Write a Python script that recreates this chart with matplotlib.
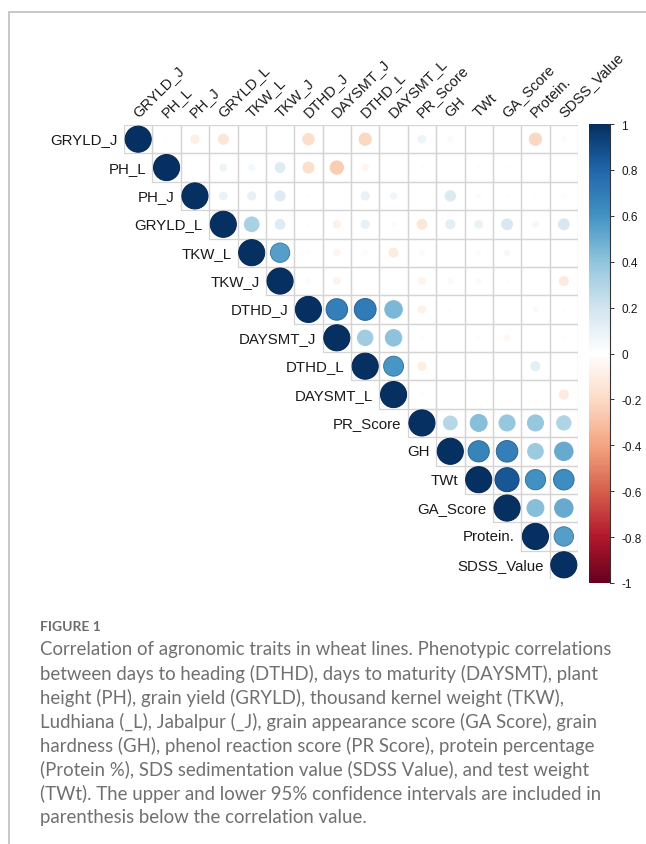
import matplotlib.pyplot as plt
import numpy as np
from matplotlib.colors import LinearSegmentedColormap, Normalize
from matplotlib.patches import Circle, Rectangle
from matplotlib.colorbar import ColorbarBase

traits = ["GRYLD_J", "PH_L", "PH_J", "GRYLD_L", "TKW_L", "TKW_J", "DTHD_J",
          "DAYSMT_J", "DTHD_L", "DAYSMT_L", "PR_Score", "GH", "TWt",
          "GA_Score", "Protein.", "SDSS_Value"]

# upper triangle of the correlation matrix, each row starting at the diagonal
r_gryld_j = [1, -0.02, -0.10, -0.15, 0.00, 0.00, -0.19, 0.00, -0.22, 0.00, 0.08, -0.04, 0.00, 0.00, -0.22, -0.03]
r_ph_l = [1, 0.00, 0.07, 0.05, 0.14, -0.18, -0.26, -0.06, 0.00, 0.01, 0.00, 0.01, 0.01, 0.00, 0.00]
r_ph_j = [1, 0.09, 0.10, 0.15, 0.01, -0.01, 0.10, 0.06, 0.00, 0.16, 0.02, 0.01, 0.01, -0.02]
r_gryld_l = [1, 0.32, 0.14, 0.01, -0.08, 0.10, 0.02, -0.14, 0.12, 0.09, 0.17, 0.05, 0.17]
r_tkw_l = [1, 0.55, 0.01, -0.06, -0.03, -0.12, -0.04, 0.00, 0.02, 0.04, 0.00, 0.00]
r_tkw_j = [1, -0.03, -0.07, 0.00, 0.00, -0.07, -0.04, -0.04, -0.02, -0.01, -0.12]
r_dthd_j = [1, 0.68, 0.70, 0.45, -0.08, 0.01, 0.00, 0.00, 0.03, 0.01]
r_daysmt_j = [1, 0.35, 0.40, -0.02, 0.00, 0.01, -0.05, 0.00, -0.02]
r_dthd_l = [1, 0.58, -0.10, 0.00, 0.00, 0.00, 0.12, 0.00]
r_daysmt_l = [1, -0.02, 0.00, 0.00, -0.01, 0.00, -0.12]
r_pr_score = [1, 0.28, 0.42, 0.38, 0.38, 0.30]
r_gh = [1, 0.66, 0.68, 0.36, 0.50]
r_twt = [1, 0.85, 0.60, 0.62]
r_ga_score = [1, 0.42, 0.50]
r_protein = [1, 0.55]
r_sdss_value = [1]

upper_rows = [r_gryld_j, r_ph_l, r_ph_j, r_gryld_l, r_tkw_l, r_tkw_j, r_dthd_j,
              r_daysmt_j, r_dthd_l, r_daysmt_l, r_pr_score, r_gh, r_twt,
              r_ga_score, r_protein, r_sdss_value]

cbar_ticks = [1, 0.8, 0.6, 0.4, 0.2, 0, -0.2, -0.4, -0.6, -0.8, -1]

caption_title = "FIGURE 1"
caption_lines = [
    "Correlation of agronomic traits in wheat lines. Phenotypic correlations",
    "between days to heading (DTHD), days to maturity (DAYSMT), plant",
    "height (PH), grain yield (GRYLD), thousand kernel weight (TKW),",
    "Ludhiana (_L), Jabalpur (_J), grain appearance score (GA Score), grain",
    "hardness (GH), phenol reaction score (PR Score), protein percentage",
    "(Protein %), SDS sedimentation value (SDSS Value), and test weight",
    "(TWt). The upper and lower 95% confidence intervals are included in",
    "parenthesis below the correlation value.",
]

n = len(traits)
corr = np.full((n, n), np.nan)
for i, row in enumerate(upper_rows):
    corr[i, i:] = row

# RdBu diverging palette
rdbu = ["#67001F", "#B2182B", "#D6604D", "#F4A582", "#FDDBC7", "#FFFFFF",
        "#D1E5F0", "#92C5DE", "#4393C3", "#2166AC", "#053061"]
cmap = LinearSegmentedColormap.from_list("rdbu", rdbu, N=200)
norm = Normalize(-1, 1)

plt.rcParams["font.family"] = ["Liberation Sans", "DejaVu Sans"]

fig = plt.figure(figsize=(6.46, 8.45), dpi=100)

# outer frame (top and left edges)
fig.add_artist(plt.Line2D([9 / 646, 1], [1 - 13 / 845, 1 - 13 / 845],
                          color="#c8c8c8", lw=1.4))
fig.add_artist(plt.Line2D([9 / 646, 9 / 646], [0, 1 - 13 / 845],
                          color="#c8c8c8", lw=1.4))

ax = fig.add_axes([124 / 646, 1 - 580 / 845, 454 / 646, 454 / 845])
ax.set_xlim(-0.5, n - 0.5)
ax.set_ylim(n - 0.5, -0.5)
ax.set_aspect("equal")
ax.axis("off")

for i in range(n):
    for j in range(i, n):
        ax.add_patch(Rectangle((j - 0.5, i - 0.5), 1, 1, fill=False,
                               edgecolor="#d4d4d4", lw=0.9))
for i in range(n):
    for j in range(i, n):
        r = corr[i, j]
        if abs(r) < 0.005:
            continue
        c = np.array(cmap(norm(r)))
        edge = c.copy()
        if abs(r) > 0.5:
            edge[:3] *= 0.8
        ax.add_patch(Circle((j, i), 0.46 * np.sqrt(abs(r)), facecolor=c,
                            edgecolor=edge, lw=0.7))

for i, name in enumerate(traits):
    ax.text(i - 0.72, i, name, ha="right", va="center", fontsize=10.8,
            color="#1a1a1a")
    ax.text(i + 0.08, -0.72, name, ha="left", va="bottom", rotation=45,
            rotation_mode="anchor", fontsize=10.5, color="#1a1a1a")

cax = fig.add_axes([589 / 646, 1 - 584 / 845, 21 / 646, 459 / 845])
cb = ColorbarBase(cax, cmap=cmap, norm=norm, orientation="vertical")
cb.outline.set_visible(False)
cax.plot([1, 1], [0, 1], transform=cax.transAxes, color="#333333", lw=0.8,
         clip_on=False)
cb.set_ticks(cbar_ticks)
cb.set_ticklabels([f"{t:g}" for t in cbar_ticks])
cax.tick_params(length=3, width=0.7, color="#333333", labelsize=8.5,
                labelcolor="#1a1a1a", pad=5)

fig.text(40 / 646, 1 - 627 / 845, caption_title, fontsize=10,
         family=["Lato", "DejaVu Sans"], weight="bold", color="#6d6d6d",
         va="center")
for k, line in enumerate(caption_lines):
    fig.text(40 / 646, 1 - (650 + 24 * k) / 845, line, fontsize=13.4,
             family=["Lato", "DejaVu Sans"], color="#707070", va="center")

fig.savefig("out.png", dpi=100)
